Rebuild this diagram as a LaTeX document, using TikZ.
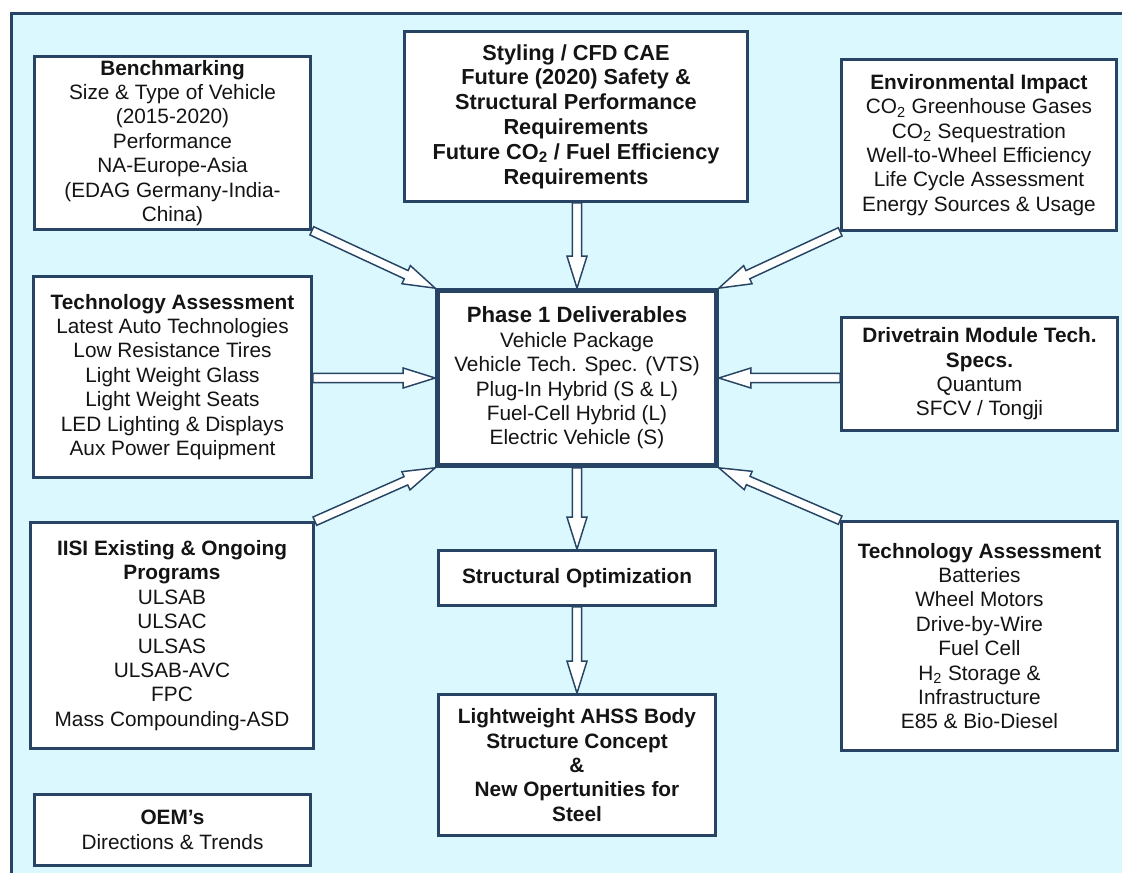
\documentclass[tikz,border=0pt]{standalone}
\usepackage{fontspec}
\setmainfont{Liberation Sans}
\usetikzlibrary{calc}

\definecolor{bgcyan}{RGB}{218,248,253}
\definecolor{boxline}{RGB}{40,68,100}
\definecolor{txt}{RGB}{20,20,20}

\pgfdeclarelayer{bg}
\pgfdeclarelayer{arr}
\pgfsetlayers{bg,arr,main}

\tikzset{
  box/.style={draw=boxline, line width=2pt, fill=white, text=txt, align=center,
    inner sep=2pt, font=\fontsize{15.6}{18.3}\selectfont},
  sz/.style 2 args={minimum width=#1*0.75pt, minimum height=#2*0.75pt},
  fatarrow/.style={draw=boxline, line width=1.1pt, fill=white, line join=miter}
}

% hollow block arrow from #1 to #2
\newcommand{\fatarrow}[2]{%
  \coordinate (fa-a) at (#1);
  \coordinate (fa-b) at (#2);
  \coordinate (fa-c) at ($(fa-b)!24pt!(fa-a)$);
  \path[fatarrow] ($(fa-a)!3.4pt!90:(fa-b)$) -- ($(fa-c)!3.4pt!-90:(fa-a)$)
    -- ($(fa-c)!7.5pt!-90:(fa-a)$) -- (fa-b) -- ($(fa-c)!7.5pt!90:(fa-a)$)
    -- ($(fa-c)!3.4pt!90:(fa-a)$) -- ($(fa-a)!3.4pt!-90:(fa-b)$) -- cycle;
}

\begin{document}
\begin{tikzpicture}[x=0.75pt,y=-0.75pt]
\useasboundingbox (0,0) rectangle (1122,873);

\begin{pgfonlayer}{bg}
  \fill[bgcyan] (10,12) rectangle (1122,873);
  \draw[boxline, line width=2.2pt] (11.5,873) -- (11.5,13.5) -- (1122,13.5);
\end{pgfonlayer}

% left column
\node[box, sz={276}{173}] (bench) at (172.5,143) {\textbf{Benchmarking}\\Size \& Type of Vehicle\\(2015-2020)\\Performance\\NA-Europe-Asia\\(EDAG Germany-India-\\China)};
\node[box, sz={278}{201}] (techl) at (172.5,377) {\textbf{Technology Assessment}\\Latest Auto Technologies\\Low Resistance Tires\\Light Weight Glass\\Light Weight Seats\\LED Lighting \& Displays\\Aux Power Equipment};
\node[box, sz={283}{226}] (iisi) at (172,635.5) {\textbf{IISI Existing \& Ongoing}\\\textbf{Programs}\\ULSAB\\ULSAC\\ULSAS\\ULSAB-AVC\\FPC\\Mass Compounding-ASD};
\node[box, sz={276}{71}] (oem) at (172.5,830) {\textbf{OEM's}\\Directions \& Trends};

% middle column
\node[box, sz={343}{170}, font=\bfseries\fontsize{16.3}{18.6}\selectfont] (styling) at (576,116.5) {Styling / CFD CAE\\Future (2020) Safety \&\\Structural Performance\\Requirements\\Future CO\textsubscript{2} / Fuel Efficiency\\Requirements};
\node[box, sz={279}{175}, line width=3.5pt] (phase) at (577,378) {{\bfseries\fontsize{16.6}{18.3}\selectfont Phase 1 Deliverables}\\Vehicle Package\\Vehicle Tech. Spec. (VTS)\\Plug-In Hybrid (S \& L)\\Fuel-Cell Hybrid (L)\\Electric Vehicle (S)};
\node[box, sz={277}{55}] (struct) at (577,578) {\textbf{Structural Optimization}};
\node[box, sz={277}{141}, font=\bfseries\fontsize{15.6}{18.3}\selectfont] (light) at (577,765) {Lightweight AHSS Body\\Structure Concept\\\&\\New Opertunities for\\Steel};

% right column
\node[box, sz={275}{171}] (env) at (979,145) {\textbf{Environmental Impact}\\CO\textsubscript{2} Greenhouse Gases\\CO\textsubscript{2} Sequestration\\Well-to-Wheel Efficiency\\Life Cycle Assessment\\Energy Sources \& Usage};
\node[box, sz={276}{113}] (drive) at (979.5,374) {\textbf{Drivetrain Module Tech.}\\\textbf{Specs.}\\Quantum\\SFCV / Tongji};
\node[box, sz={276}{229}] (techr) at (979.5,636) {\textbf{Technology Assessment}\\Batteries\\Wheel Motors\\Drive-by-Wire\\Fuel Cell\\H\textsubscript{2} Storage \&\\Infrastructure\\E85 \& Bio-Diesel};

\begin{pgfonlayer}{arr}
  \fatarrow{bench.south east}{phase.north west}
  \fatarrow{styling.south -| phase.north}{phase.north}
  \fatarrow{env.south west}{phase.north east}
  \fatarrow{techl.east |- phase.west}{phase.west}
  \fatarrow{drive.west |- phase.east}{phase.east}
  \fatarrow{iisi.north east}{phase.south west}
  \fatarrow{techr.north west}{phase.south east}
  \fatarrow{phase.south}{struct.north}
  \fatarrow{struct.south}{light.north}
\end{pgfonlayer}
\end{tikzpicture}
\end{document}
